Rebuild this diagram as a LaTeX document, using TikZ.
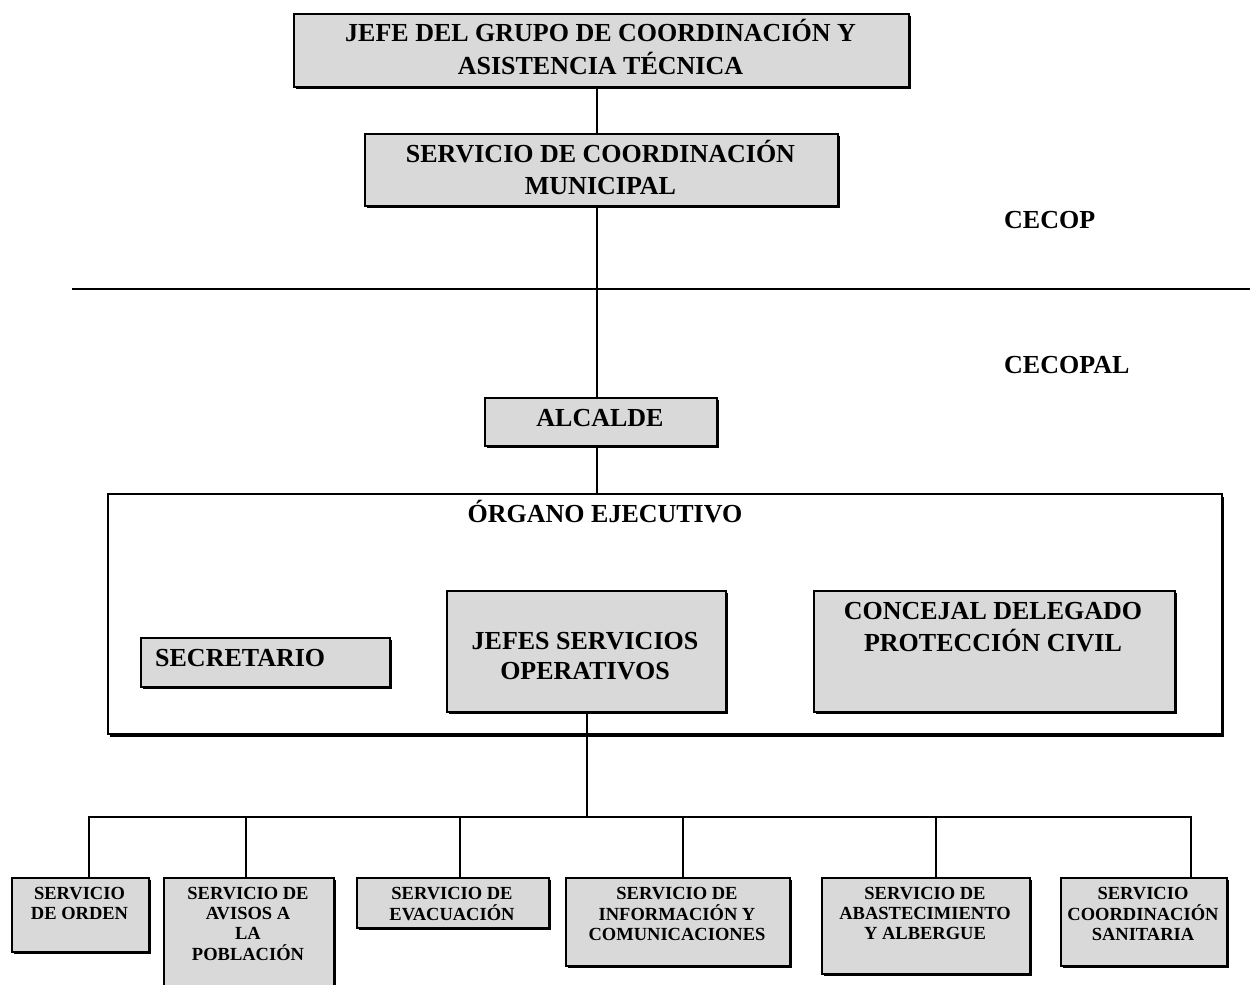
\documentclass[tikz,border=0pt]{standalone}
\usepackage{fontspec}
\setmainfont{Liberation Serif}
\usetikzlibrary{shadows}
\definecolor{boxgray}{HTML}{D9D9D9}
\newcommand{\ml}[1]{\begin{tabular}[t]{@{}c@{}}#1\end{tabular}}
\begin{document}
\begin{tikzpicture}[x=1pt,y=-1pt,
  box/.style={draw=black, line width=1.6pt, fill=boxgray, inner sep=0pt, anchor=north west,
    drop shadow={shadow xshift=2.5pt, shadow yshift=-2.5pt, fill=black, opacity=1}},
  frame/.style={draw=black, line width=1.6pt, fill=white, inner sep=0pt, anchor=north west,
    drop shadow={shadow xshift=2.5pt, shadow yshift=-3.5pt, fill=black, opacity=1}},
  bigtxt/.style={font=\fontsize{26}{32}\selectfont\bfseries, inner sep=0pt, anchor=base},
  smalltxt/.style={font=\fontsize{18.5}{20}\selectfont\bfseries, inner sep=0pt, anchor=base},
  conn/.style={draw=black, line width=1.1pt},
  sepline/.style={draw=black, line width=1.8pt}]
\useasboundingbox (0,0) rectangle (1253,985);

% upper boxes
\node[box, minimum width=615pt, minimum height=73pt] (top) at (293,13) {};
\node[bigtxt, font=\fontsize{26}{33}\selectfont\bfseries] (ttop) at (600.5,41) {\ml{JEFE DEL GRUPO DE COORDINACIÓN Y\\ASISTENCIA TÉCNICA}};
\node[box, minimum width=473pt, minimum height=72pt] (sec) at (364,133) {};
\node[bigtxt] (tsec) at (600.5,162) {\ml{SERVICIO DE COORDINACIÓN\\MUNICIPAL}};

% CECOP / CECOPAL
\coordinate (sepL) at (72,289);
\coordinate (sepR) at (1250,289);
\draw[sepline] (sepL) -- (sepR);
\node[bigtxt, anchor=base west] (cecop) at (1004,228) {CECOP};
\node[bigtxt, anchor=base west] (cecopal) at (1004,373) {CECOPAL};

% alcalde
\node[box, minimum width=232pt, minimum height=48pt] (alc) at (484,397) {};
\node[bigtxt] (talc) at (600,426) {ALCALDE};

% organo ejecutivo
\node[frame, minimum width=1114pt, minimum height=240pt] (org) at (107,493) {};
\node[bigtxt] (torg) at (605,522) {ÓRGANO EJECUTIVO};
\node[box, minimum width=249pt, minimum height=49pt] (secr) at (140,637) {};
\node[bigtxt, anchor=base west] (tsecr) at (155,666) {SECRETARIO};
\node[box, minimum width=279pt, minimum height=121pt] (jef) at (446,590) {};
\node[bigtxt, font=\fontsize{26}{30}\selectfont\bfseries] (tjef) at (585,649) {\ml{JEFES SERVICIOS\\OPERATIVOS}};
\node[box, minimum width=361pt, minimum height=121pt] (con) at (813,590) {};
\node[bigtxt] (tcon) at (993,619) {\ml{CONCEJAL DELEGADO\\PROTECCIÓN CIVIL}};

% connectors upper
\coordinate (ax) at (597,0);
\draw[conn] (top.south -| ax) -- (sec.north -| ax);
\draw[conn] (sec.south -| ax) -- (alc.north -| ax);
\draw[conn] (alc.south -| ax) -- (org.north -| ax);

% bottom services
\node[box, minimum width=137pt, minimum height=74pt] (s1) at (11,877) {};
\node[box, minimum width=170pt, minimum height=118pt] (s2) at (163,877) {};
\node[box, minimum width=192pt, minimum height=50pt] (s3) at (356,877) {};
\node[box, minimum width=224pt, minimum height=88pt] (s4) at (565,877) {};
\node[box, minimum width=208pt, minimum height=96pt] (s5) at (821,877) {};
\node[box, minimum width=166pt, minimum height=88pt] (s6) at (1060,877) {};

\node[smalltxt] (t1) at (79.5,899) {\ml{SERVICIO\\DE ORDEN}};
\node[smalltxt] (t2) at (248,899) {\ml{SERVICIO DE\\AVISOS A\\LA\\POBLACIÓN}};
\node[smalltxt] (t3) at (452,899) {\ml{SERVICIO DE\\EVACUACIÓN}};
\node[smalltxt] (t4) at (677,899) {\ml{SERVICIO DE\\INFORMACIÓN Y\\COMUNICACIONES}};
\node[smalltxt] (t5) at (925,899) {\ml{SERVICIO DE\\ABASTECIMIENTO\\Y ALBERGUE}};
\node[smalltxt] (t6) at (1143,899) {\ml{SERVICIO\\COORDINACIÓN\\SANITARIA}};

% bus
\coordinate (bx) at (587,817);
\coordinate (barL) at (88,817);
\coordinate (barR) at (1192,817);
\draw[conn] (jef.south -| bx) -- (bx);
\draw[conn] (barL) -- (barR);
\coordinate (d1) at (89,817);
\coordinate (d2) at (246,817);
\coordinate (d3) at (460,817);
\coordinate (d4) at (683,817);
\coordinate (d5) at (936,817);
\coordinate (d6) at (1191,817);
\draw[conn] (d1) -- (s1.north -| d1);
\draw[conn] (d2) -- (s2.north -| d2);
\draw[conn] (d3) -- (s3.north -| d3);
\draw[conn] (d4) -- (s4.north -| d4);
\draw[conn] (d5) -- (s5.north -| d5);
\draw[conn] (d6) -- (s6.north -| d6);
\end{tikzpicture}
\end{document}
